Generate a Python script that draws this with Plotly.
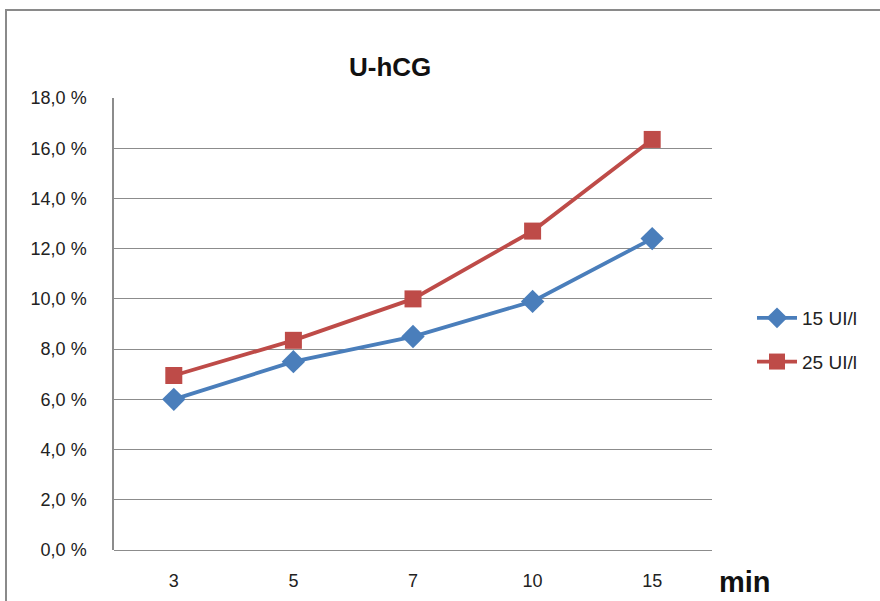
import plotly.graph_objects as go

categories = ["3", "5", "7", "10", "15"]
series_15 = [6.0, 7.5, 8.5, 9.9, 12.4]
series_25 = [6.95, 8.35, 10.0, 12.7, 16.35]
y_ticks = [0, 2, 4, 6, 8, 10, 12, 14, 16, 18]
y_tick_labels = ["0,0 %", "2,0 %", "4,0 %", "6,0 %", "8,0 %", "10,0 %", "12,0 %", "14,0 %", "16,0 %", "18,0 %"]

W, H = 880, 601
L, R, T, B = 114, 712, 98, 550

def px(x):
    return (x - L) / (R - L)

def py(y):
    return (B - y) / (B - T)

font_family = "Liberation Sans Narrow, Liberation Sans, Arial"

fig = go.Figure()
fig.add_trace(go.Scatter(
    x=categories, y=series_15, name="15 UI/l", mode="lines+markers",
    legendgroup="a",
    line=dict(color="#4a7ebb", width=3.8),
    marker=dict(symbol="diamond", size=18, color="#4a7ebb"),
))
fig.add_trace(go.Scatter(
    x=categories, y=series_25, name="25 UI/l", mode="lines+markers",
    legendgroup="b",
    line=dict(color="#be4b48", width=3.8),
    marker=dict(symbol="square", size=17, color="#be4b48"),
))

fig.update_layout(
    width=W, height=H,
    margin=dict(l=L, r=W - R, t=T, b=H - B, autoexpand=False),
    paper_bgcolor="white", plot_bgcolor="white",
    font=dict(family=font_family, color="#222", size=18),
    showlegend=True,
    legend=dict(x=px(752), y=py(340), xanchor="left", yanchor="middle",
                font=dict(size=19, family=font_family), bgcolor="rgba(0,0,0,0)",
                tracegroupgap=16, itemsizing="trace", itemwidth=40),
    xaxis=dict(type="category", range=[-0.5, 4.5], showgrid=False, showline=False, zeroline=False,
               automargin=False,
               ticks="", tickfont=dict(size=18), ticklabelstandoff=18),
    yaxis=dict(range=[0, 18], tickvals=y_ticks, ticktext=y_tick_labels,
               automargin=False,
               showgrid=True, gridcolor="#8c8c8c", gridwidth=1,
               showline=True, linecolor="#8c8c8c", linewidth=1.5,
               zeroline=True, zerolinecolor="#8c8c8c", zerolinewidth=1,
               ticks="", tickfont=dict(size=18), ticklabelstandoff=22),
    shapes=[dict(type="rect", xref="paper", yref="paper",
                 x0=px(6), x1=px(890), y0=py(615), y1=py(10),
                 line=dict(color="#8a8a8a", width=2), fillcolor="rgba(0,0,0,0)",
                 layer="below")],
    annotations=[
        dict(text="<b>U-hCG</b>", xref="paper", yref="paper", x=px(390), y=py(67),
             xanchor="center", yanchor="middle", showarrow=False,
             font=dict(size=26, family=font_family, color="#111")),
        dict(text="<b>min</b>", xref="paper", yref="paper", x=px(717), y=py(582),
             xanchor="left", yanchor="middle", showarrow=False,
             font=dict(size=29, family=font_family, color="#111")),
    ],
)

fig.write_html("out.html")
